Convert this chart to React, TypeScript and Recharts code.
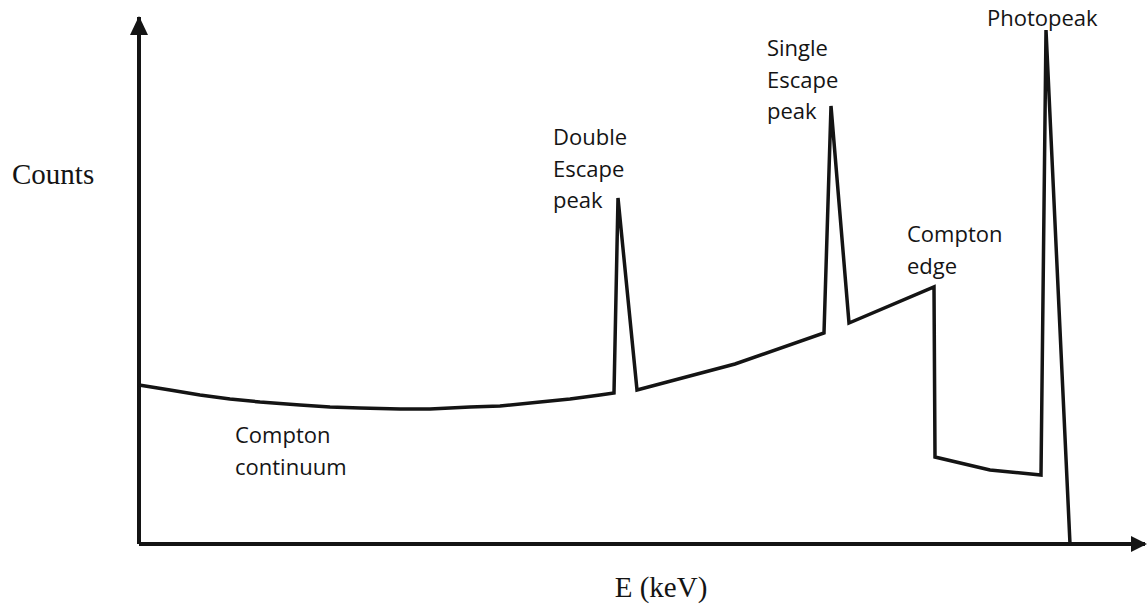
import { LineChart, Line, XAxis, YAxis, ReferenceDot, ReferenceLine } from 'recharts'

// Schematic gamma-ray spectrum, arbitrary units
const energy = [0, 31, 61, 91, 121, 161, 191, 221, 261, 291, 331, 361, 401, 431, 461, 475, 479, 498, 596, 685, 692, 710, 795, 796, 851, 902, 907, 931]
const counts = [159, 154, 149, 145, 142, 139, 137, 136, 135, 135, 137, 138, 142, 145, 149, 151, 346, 154, 180, 211, 438, 221, 257, 87, 74, 69, 514, 0]

const spectrum = energy.map((e, i) => ({ e, c: counts[i] }))

// annotation text and the point (E, counts) where its first line starts
const noteText = [
  ['Photopeak'],
  ['Single', 'Escape', 'peak'],
  ['Double', 'Escape', 'peak'],
  ['Compton', 'edge'],
  ['Compton', 'continuum'],
]
const noteE = [848, 628, 414, 768, 96]
const noteC = [518, 488, 399, 302, 101]

const E_MAX = 1006
const C_MAX = 527

const ink = '#141414'

function Note({ cx, cy, lines }: any) {
  return (
    <text x={cx} y={cy} fill={ink} fontFamily="'Open Sans', sans-serif" fontSize={22}>
      {lines.map((l: string, i: number) => (
        <tspan key={i} x={cx} dy={i === 0 ? 0 : 31.5}>
          {l}
        </tspan>
      ))}
    </text>
  )
}

function AxisTitle({ cx, cy, text, anchor }: any) {
  return (
    <text x={cx} y={cy} fill={ink} textAnchor={anchor} fontFamily="'Liberation Serif', 'Times New Roman', serif" fontSize={29}>
      {text}
    </text>
  )
}

function UpArrow({ cx, cy }: any) {
  return <polygon points={`${cx},${cy - 1} ${cx - 9},${cy + 18} ${cx + 9},${cy + 18}`} fill={ink} />
}

function RightArrow({ cx, cy }: any) {
  return <polygon points={`${cx + 2},${cy} ${cx - 14},${cy - 8} ${cx - 14},${cy + 8}`} fill={ink} />
}

export default function App() {
  return (
    <div style={{ position: 'absolute', left: 0, top: 0, background: '#fff' }}>
      <LineChart
        width={1147}
        height={615}
        data={spectrum}
        margin={{ top: 17, right: 2, left: 139, bottom: 71 }}
      >
        <XAxis type="number" dataKey="e" domain={[0, E_MAX]} hide />
        <YAxis type="number" domain={[0, C_MAX]} hide />
        <ReferenceLine x={0} stroke={ink} strokeWidth={4} ifOverflow="visible" />
        <ReferenceLine y={0} stroke={ink} strokeWidth={4} ifOverflow="visible" />
        <Line
          type="linear"
          dataKey="c"
          stroke={ink}
          strokeWidth={3.5}
          strokeLinejoin="miter"
          dot={false}
          activeDot={false}
          isAnimationActive={false}
        />
        <ReferenceDot x={0} y={C_MAX} ifOverflow="visible" shape={(p: any) => <UpArrow {...p} />} />
        <ReferenceDot x={E_MAX} y={0} ifOverflow="visible" shape={(p: any) => <RightArrow {...p} />} />
        {noteText.map((lines, i) => (
          <ReferenceDot
            key={i}
            x={noteE[i]}
            y={noteC[i]}
            ifOverflow="visible"
            shape={(p: any) => <Note {...p} lines={lines} />}
          />
        ))}
        <ReferenceDot x={-127} y={360} ifOverflow="visible" shape={(p: any) => <AxisTitle {...p} text="Counts" anchor="start" />} />
        <ReferenceDot x={522} y={-53} ifOverflow="visible" shape={(p: any) => <AxisTitle {...p} text="E (keV)" anchor="middle" />} />
      </LineChart>
    </div>
  )
}
